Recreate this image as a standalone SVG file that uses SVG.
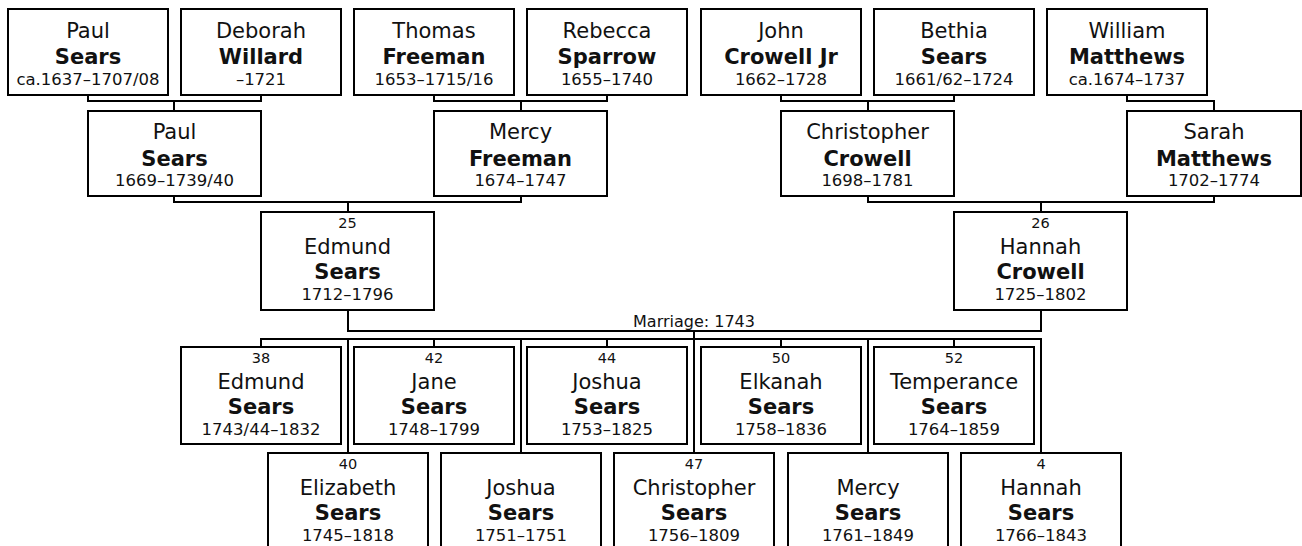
<svg xmlns="http://www.w3.org/2000/svg" width="1302" height="546" viewBox="0 0 1302 546">
<style>
.box{fill:#fff;stroke:#000;stroke-width:2}
text{font-family:"DejaVu Sans","Verdana",sans-serif;fill:#111;text-anchor:middle;stroke:none}
.nm{font-size:21px}
.sn{font-size:21px;font-weight:bold}
.dt{font-size:16.5px}
.no{font-size:14.5px}
.mr{font-size:16px}
.ln{fill:none;stroke:#000;stroke-width:2}
</style>
<rect width="1302" height="546" fill="#fff"/>
<g id="connectors">
<path class="ln" d="M88,95V101H261V95M174,101V111"/>
<path class="ln" d="M434,95V101H607V95M521,101V111"/>
<path class="ln" d="M781,95V101H954V95M868,101V111"/>
<path class="ln" d="M1127,95V101H1214V111"/>
<path class="ln" d="M174,196V202H521V196M348,202V212"/>
<path class="ln" d="M868,196V202H1214V196M1041,202V212"/>
<path class="ln" d="M348,310V331H1041V310M694,331V453"/>
<path class="ln" d="M261,347V339H1041V453"/>
<path class="ln" d="M434,339V347M607,339V347M781,339V347M954,339V347"/>
<path class="ln" d="M348,339V453M521,339V453M868,339V453"/>
<text class="mr" x="694" y="326.5">Marriage: 1743</text>
</g>
<g id="n1"><rect class="box" x="8" y="9" width="160" height="86"/><text class="nm" x="88" y="37.5">Paul</text><text class="sn" x="88" y="64">Sears</text><text class="dt" x="88" y="85">ca.1637–1707/08</text></g>
<g id="n2"><rect class="box" x="181" y="9" width="160" height="86"/><text class="nm" x="261" y="37.5">Deborah</text><text class="sn" x="261" y="64">Willard</text><text class="dt" x="261" y="85">–1721</text></g>
<g id="n3"><rect class="box" x="354" y="9" width="160" height="86"/><text class="nm" x="434" y="37.5">Thomas</text><text class="sn" x="434" y="64">Freeman</text><text class="dt" x="434" y="85">1653–1715/16</text></g>
<g id="n4"><rect class="box" x="527" y="9" width="160" height="86"/><text class="nm" x="607" y="37.5">Rebecca</text><text class="sn" x="607" y="64">Sparrow</text><text class="dt" x="607" y="85">1655–1740</text></g>
<g id="n5"><rect class="box" x="701" y="9" width="160" height="86"/><text class="nm" x="781" y="37.5">John</text><text class="sn" x="781" y="64">Crowell Jr</text><text class="dt" x="781" y="85">1662–1728</text></g>
<g id="n6"><rect class="box" x="874" y="9" width="160" height="86"/><text class="nm" x="954" y="37.5">Bethia</text><text class="sn" x="954" y="64">Sears</text><text class="dt" x="954" y="85">1661/62–1724</text></g>
<g id="n7"><rect class="box" x="1047" y="9" width="160" height="86"/><text class="nm" x="1127" y="37.5">William</text><text class="sn" x="1127" y="64">Matthews</text><text class="dt" x="1127" y="85">ca.1674–1737</text></g>
<g id="n8"><rect class="box" x="88" y="111" width="173" height="85"/><text class="nm" x="174.5" y="139">Paul</text><text class="sn" x="174.5" y="165.5">Sears</text><text class="dt" x="174.5" y="186">1669–1739/40</text></g>
<g id="n9"><rect class="box" x="434" y="111" width="173" height="85"/><text class="nm" x="520.5" y="139">Mercy</text><text class="sn" x="520.5" y="165.5">Freeman</text><text class="dt" x="520.5" y="186">1674–1747</text></g>
<g id="n10"><rect class="box" x="781" y="111" width="173" height="85"/><text class="nm" x="867.5" y="139">Christopher</text><text class="sn" x="867.5" y="165.5">Crowell</text><text class="dt" x="867.5" y="186">1698–1781</text></g>
<g id="n11"><rect class="box" x="1127" y="111" width="174" height="85"/><text class="nm" x="1214" y="139">Sarah</text><text class="sn" x="1214" y="165.5">Matthews</text><text class="dt" x="1214" y="186">1702–1774</text></g>
<g id="n12"><rect class="box" x="261" y="212" width="173" height="98"/><text class="no" x="347.5" y="228">25</text><text class="nm" x="347.5" y="254">Edmund</text><text class="sn" x="347.5" y="279">Sears</text><text class="dt" x="347.5" y="300">1712–1796</text></g>
<g id="n13"><rect class="box" x="954" y="212" width="173" height="98"/><text class="no" x="1040.5" y="228">26</text><text class="nm" x="1040.5" y="254">Hannah</text><text class="sn" x="1040.5" y="279">Crowell</text><text class="dt" x="1040.5" y="300">1725–1802</text></g>
<g id="n14"><rect class="box" x="181" y="347" width="160" height="97"/><text class="no" x="261" y="363">38</text><text class="nm" x="261" y="389">Edmund</text><text class="sn" x="261" y="414">Sears</text><text class="dt" x="261" y="435">1743/44–1832</text></g>
<g id="n15"><rect class="box" x="354" y="347" width="160" height="97"/><text class="no" x="434" y="363">42</text><text class="nm" x="434" y="389">Jane</text><text class="sn" x="434" y="414">Sears</text><text class="dt" x="434" y="435">1748–1799</text></g>
<g id="n16"><rect class="box" x="527" y="347" width="160" height="97"/><text class="no" x="607" y="363">44</text><text class="nm" x="607" y="389">Joshua</text><text class="sn" x="607" y="414">Sears</text><text class="dt" x="607" y="435">1753–1825</text></g>
<g id="n17"><rect class="box" x="701" y="347" width="160" height="97"/><text class="no" x="781" y="363">50</text><text class="nm" x="781" y="389">Elkanah</text><text class="sn" x="781" y="414">Sears</text><text class="dt" x="781" y="435">1758–1836</text></g>
<g id="n18"><rect class="box" x="874" y="347" width="160" height="97"/><text class="no" x="954" y="363">52</text><text class="nm" x="954" y="389">Temperance</text><text class="sn" x="954" y="414">Sears</text><text class="dt" x="954" y="435">1764–1859</text></g>
<g id="n19"><rect class="box" x="268" y="453" width="160" height="97"/><text class="no" x="348" y="469">40</text><text class="nm" x="348" y="495">Elizabeth</text><text class="sn" x="348" y="520">Sears</text><text class="dt" x="348" y="541">1745–1818</text></g>
<g id="n20"><rect class="box" x="441" y="453" width="160" height="97"/><text class="nm" x="521" y="495">Joshua</text><text class="sn" x="521" y="520">Sears</text><text class="dt" x="521" y="541">1751–1751</text></g>
<g id="n21"><rect class="box" x="614" y="453" width="160" height="97"/><text class="no" x="694" y="469">47</text><text class="nm" x="694" y="495">Christopher</text><text class="sn" x="694" y="520">Sears</text><text class="dt" x="694" y="541">1756–1809</text></g>
<g id="n22"><rect class="box" x="788" y="453" width="160" height="97"/><text class="nm" x="868" y="495">Mercy</text><text class="sn" x="868" y="520">Sears</text><text class="dt" x="868" y="541">1761–1849</text></g>
<g id="n23"><rect class="box" x="961" y="453" width="160" height="97"/><text class="no" x="1041" y="469">4</text><text class="nm" x="1041" y="495">Hannah</text><text class="sn" x="1041" y="520">Sears</text><text class="dt" x="1041" y="541">1766–1843</text></g>
</svg>
